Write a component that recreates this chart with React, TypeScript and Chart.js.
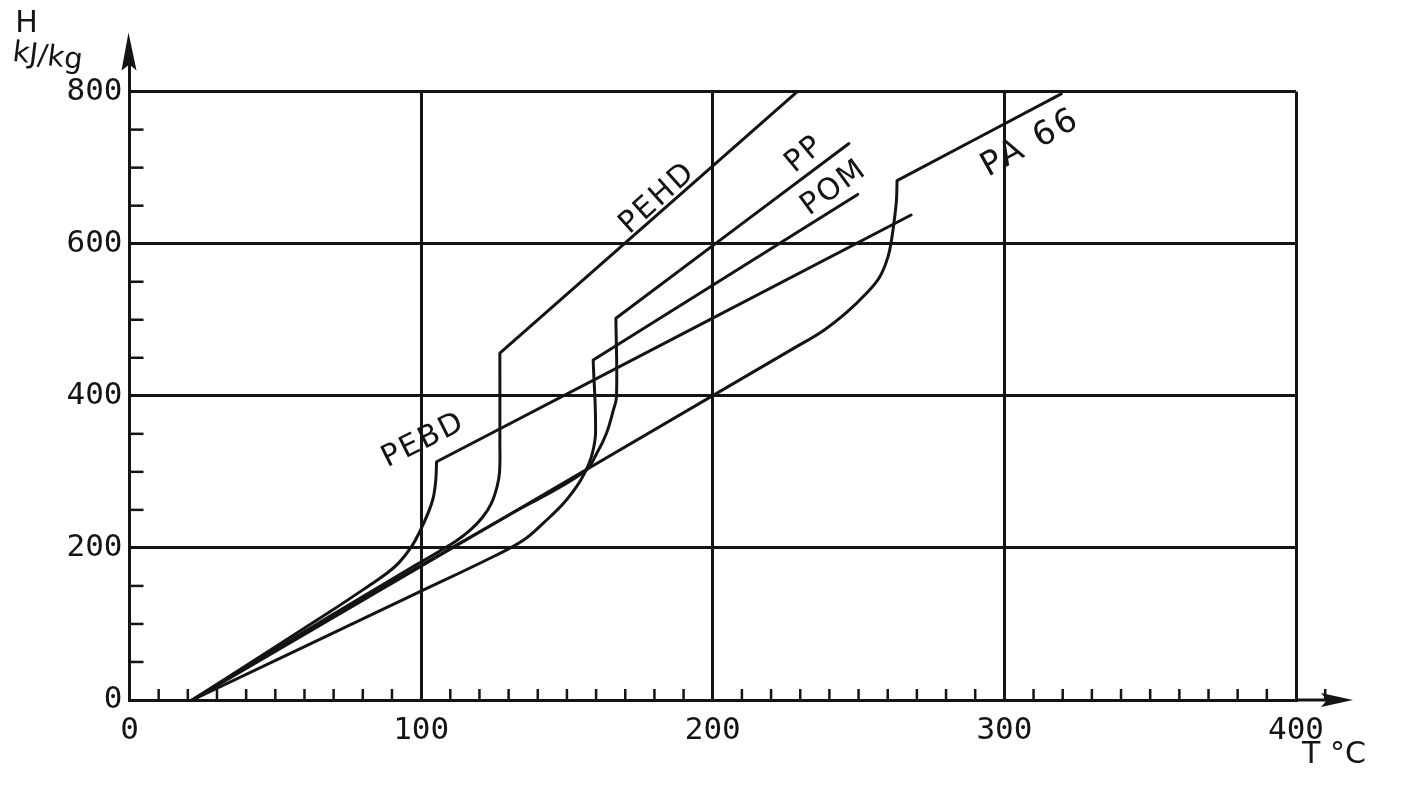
import React, { useEffect, useRef } from "react";
import { Chart, registerables } from "chart.js";

Chart.register(...registerables);

// ---------- data ----------
const X_TICK_VALUES = [0, 100, 200, 300, 400];
const X_TICK_LABELS = ["0", "100", "200", "300", "400"];
const Y_TICK_VALUES = [0, 200, 400, 600, 800];
const Y_TICK_LABELS = ["0", "200", "400", "600", "800"];
const X_MINOR_STEP = 10; // minor tick spacing on T axis
const Y_MINOR_STEP = 50; // minor tick spacing on H axis

const X_TITLE = "T °C";
const Y_TITLE = "H";
const Y_UNIT = "kJ/kg";

// kink points are listed twice so the smoothed line keeps a sharp corner there
const PEBD_T = [21.5, 68.7, 82, 88, 92.5, 96.7, 99.6, 102.3, 104.1, 105.0, 105.3, 105.3, 268.0];
const PEBD_H = [0, 116, 150, 166, 181, 201.6, 222, 245, 265, 288, 313.3, 313.3, 637.7];

const PEHD_T = [21.5, 68.7, 98, 106, 112, 117, 121, 124, 126, 126.9, 127.0, 127.0, 127.0, 229.0];
const PEHD_H = [0, 110, 177, 195, 209, 224, 240, 258, 280, 300, 340, 456, 456, 800];

const PP_T = [21.5, 68.7, 100, 130, 156, 160.2, 163.6, 165.9, 167.0, 166.8, 166.8, 246.7];
const PP_H = [0, 108, 177, 243, 300, 324, 351, 381, 399, 502, 502, 731.7];

const POM_T = [21.5, 99.6, 125, 135, 142, 148.7, 153.3, 156, 158.4, 159.8, 159.0, 159.0, 249.7];
const POM_H = [0, 142.4, 189, 210, 233, 258, 280.5, 298, 320, 350.7, 447, 447, 664.8];

const PA66_T = [21.5, 228, 238, 246, 252.7, 257.3, 260.1, 261.3, 262.4, 263.0, 263.2, 263.2, 319.5];
const PA66_H = [0, 463, 486, 510, 534.8, 556.6, 582.9, 604.9, 635.5, 657.5, 683, 683, 797];

const SERIES_NAMES = ["PEBD", "PEHD", "PP", "POM", "PA 66"];
const SERIES_T = [PEBD_T, PEHD_T, PP_T, POM_T, PA66_T];
const SERIES_H = [PEBD_H, PEHD_H, PP_H, POM_H, PA66_H];

// curve labels (annotation anchors in data units)
const LABEL_TEXT = ["PEBD", "PEHD", "PP", "POM", "PA 66"];
const LABEL_T = [100.8, 181.1, 231.6, 241.6, 309.1];
const LABEL_H = [341, 659.3, 717, 673, 732];
const LABEL_ANGLE = [-26.5, -42, -40, -36, -29];
const LABEL_SIZE = [30, 30, 30, 30, 33];
const LABEL_SPACING = [2, 2, 2, 2, 3];

// ---------- styles ----------
const INK = "#141414";
const TICK_FONT = "DejaVu Sans Mono";
const TEXT_FONT = "DejaVu Sans";
const W = 1402;
const H = 797;

const decorPlugin = {
  id: "decor",
  afterDraw(chart: any) {
    const { ctx, scales } = chart;
    const x = scales.x;
    const y = scales.y;
    const x0 = x.getPixelForValue(0);
    const xr = x.getPixelForValue(400);
    const y0 = y.getPixelForValue(0);
    const yt = y.getPixelForValue(800);
    ctx.save();
    ctx.strokeStyle = INK;
    ctx.fillStyle = INK;
    ctx.lineCap = "butt";

    // minor ticks on T axis (pointing up, inside)
    ctx.lineWidth = 2.5;
    for (let t = X_MINOR_STEP; t <= 410; t += X_MINOR_STEP) {
      if (t % 100 === 0) continue;
      const px = x.getPixelForValue(t);
      ctx.beginPath();
      ctx.moveTo(px, y0);
      ctx.lineTo(px, y0 - 11);
      ctx.stroke();
    }
    // minor ticks on H axis (pointing right, inside)
    for (let h = Y_MINOR_STEP; h < 800; h += Y_MINOR_STEP) {
      if (h % 200 === 0) continue;
      const py = y.getPixelForValue(h);
      ctx.beginPath();
      ctx.moveTo(x0, py);
      ctx.lineTo(x0 + 14, py);
      ctx.stroke();
    }

    // axis extensions with arrows
    ctx.lineWidth = 3;
    ctx.beginPath();
    ctx.moveTo(x0, yt);
    ctx.lineTo(x0, yt - 30);
    ctx.stroke();
    ctx.beginPath();
    ctx.moveTo(x0 - 1, yt - 59);
    ctx.lineTo(x0 + 7, yt - 21);
    ctx.lineTo(x0, yt - 27);
    ctx.lineTo(x0 - 8, yt - 21);
    ctx.closePath();
    ctx.fill();

    ctx.beginPath();
    ctx.moveTo(xr, y0);
    ctx.lineTo(xr + 34, y0);
    ctx.stroke();
    ctx.beginPath();
    ctx.moveTo(xr + 57, y0);
    ctx.lineTo(xr + 25, y0 - 7);
    ctx.lineTo(xr + 31, y0);
    ctx.lineTo(xr + 25, y0 + 7);
    ctx.closePath();
    ctx.fill();

    // axis titles
    ctx.textAlign = "center";
    ctx.textBaseline = "middle";
    ctx.font = `30px "${TEXT_FONT}"`;
    ctx.fillText(Y_TITLE, x0 - 103, yt - 67);
    ctx.save();
    ctx.translate(x0 - 82, yt - 34);
    ctx.rotate((7 * Math.PI) / 180);
    ctx.font = `29px "${TEXT_FONT}"`;
    ctx.fillText(Y_UNIT, 0, 0);
    ctx.restore();
    ctx.font = `30px "${TEXT_FONT}"`;
    ctx.fillText(X_TITLE, xr + 38, y0 + 55);

    // curve labels
    LABEL_TEXT.forEach((txt, i) => {
      const px = x.getPixelForValue(LABEL_T[i]);
      const py = y.getPixelForValue(LABEL_H[i]);
      ctx.save();
      ctx.font = `${LABEL_SIZE[i]}px "${TEXT_FONT}"`;
      try {
        (ctx as any).letterSpacing = `${LABEL_SPACING[i]}px`;
      } catch (e) {}
      ctx.translate(px, py);
      ctx.rotate((LABEL_ANGLE[i] * Math.PI) / 180);
      ctx.fillText(txt, 0, 0);
      try {
        (ctx as any).letterSpacing = "0px";
      } catch (e) {}
      ctx.restore();
    });
    ctx.restore();
  },
};

export default function App() {
  const ref = useRef<HTMLCanvasElement | null>(null);

  useEffect(() => {
    if (!ref.current) return;
    const datasets = SERIES_NAMES.map((name, i) => ({
      label: name,
      data: SERIES_T[i].map((t, k) => ({ x: t, y: SERIES_H[i][k] })),
      borderColor: INK,
      backgroundColor: INK,
      borderWidth: 3,
      pointRadius: 0,
      tension: 0.4,
      fill: false,
      borderJoinStyle: "round" as const,
      borderCapStyle: "round" as const,
    }));

    const chart = new Chart(ref.current, {
      type: "line",
      data: { datasets },
      plugins: [decorPlugin],
      options: {
        animation: false,
        responsive: false,
        devicePixelRatio: 1,
        layout: { padding: { left: 0, right: 106, top: 91.6, bottom: 0 } },
        plugins: { legend: { display: false }, tooltip: { enabled: false } },
        scales: {
          x: {
            type: "linear",
            min: 0,
            max: 400,
            afterBuildTicks: (s: any) => {
              s.ticks = X_TICK_VALUES.map((v) => ({ value: v }));
            },
            afterFit: (s: any) => {
              s.height = 97;
            },
            ticks: {
              autoSkip: false,
              maxRotation: 0,
              padding: 12,
              color: INK,
              font: { family: TICK_FONT, size: 31 },
              callback: (v: any) => X_TICK_LABELS[X_TICK_VALUES.indexOf(Number(v))] ?? "",
            },
            grid: { color: INK, lineWidth: 3, drawTicks: false },
            border: { color: INK, width: 3 },
          },
          y: {
            type: "linear",
            min: 0,
            max: 800,
            afterBuildTicks: (s: any) => {
              s.ticks = Y_TICK_VALUES.map((v) => ({ value: v }));
            },
            afterFit: (s: any) => {
              s.width = 129.5;
            },
            ticks: {
              autoSkip: false,
              padding: 7,
              color: INK,
              font: { family: TICK_FONT, size: 31 },
              callback: (v: any) => Y_TICK_LABELS[Y_TICK_VALUES.indexOf(Number(v))] ?? "",
            },
            grid: { color: INK, lineWidth: 3, drawTicks: false },
            border: { color: INK, width: 3 },
          },
        },
      },
    });
    return () => chart.destroy();
  }, []);

  return (
    <div style={{ position: "fixed", left: 0, top: 0, width: W, height: H, background: "#fff" }}>
      <canvas ref={ref} width={W} height={H} style={{ display: "block", width: W, height: H }} />
    </div>
  );
}
